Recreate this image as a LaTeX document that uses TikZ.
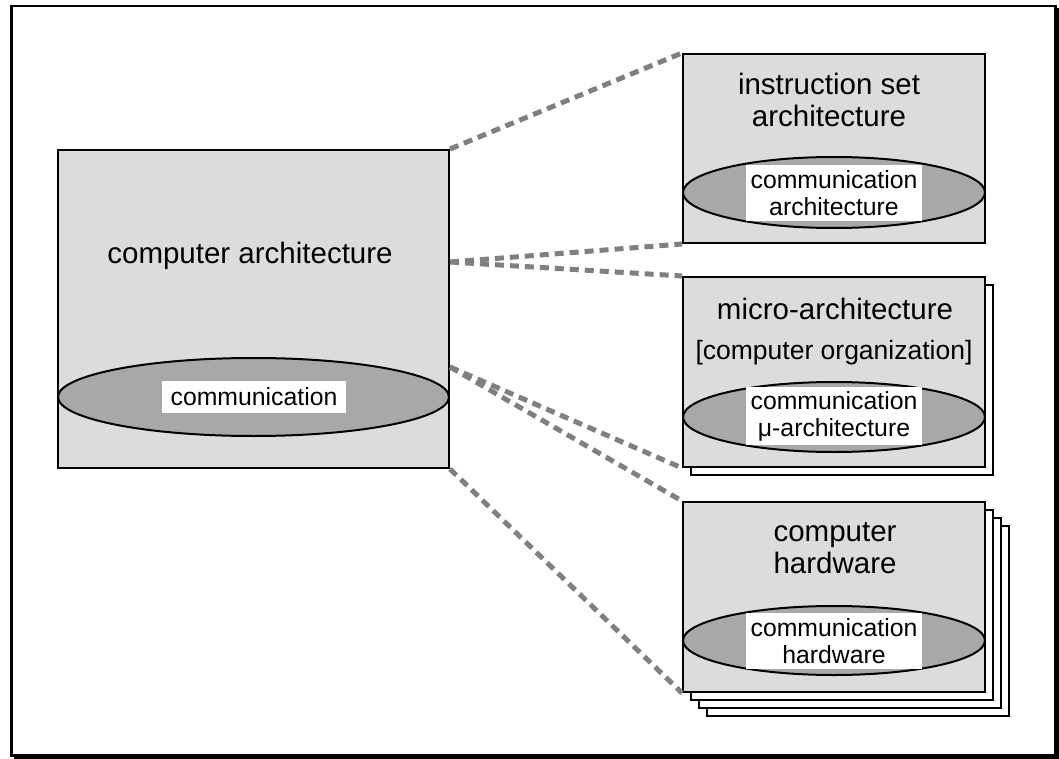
\documentclass[tikz,border=0pt]{standalone}
\usepackage{fontspec}
\setmainfont{Liberation Sans}
\usetikzlibrary{shapes.geometric,calc}
\definecolor{boxgray}{gray}{0.863}
\definecolor{ovalgray}{gray}{0.66}
\definecolor{linkgray}{gray}{0.5}
\newcommand\bigtxt{\fontsize{29.5}{32}\selectfont}
\newcommand\midtxt{\fontsize{26.5}{30}\selectfont}
\newcommand\smalltxt{\fontsize{24.8}{27}\selectfont}
\begin{document}
\begin{tikzpicture}[x=1pt,y=-1pt,
  panel/.style={draw,line width=2pt,fill=boxgray,rectangle,inner sep=0pt,
    minimum width=302pt,minimum height=190pt},
  sheet/.style={draw,line width=2pt,fill=white,rectangle,inner sep=0pt,
    minimum width=302pt,minimum height=190pt},
  oval/.style={draw,line width=2pt,fill=ovalgray,ellipse,inner sep=0pt,
    minimum width=302pt,minimum height=70pt},
  tag/.style={fill=white,inner sep=0pt,align=center,font=\smalltxt,
    minimum width=176pt,minimum height=56pt},
  title/.style={inner sep=0pt,align=center,font=\bigtxt,anchor=base},
  link/.style={draw=linkgray,line width=5pt,dash pattern=on 9pt off 6pt}]
\useasboundingbox (0,0) rectangle (1059,759);

% outer frame with drop shadow
\fill[black] (14,8) rectangle (1059,759);
\draw[line width=2.5pt,fill=white] (11.5,6) rectangle (1055.5,755.5);

% computer architecture
\node[panel,minimum width=391pt,minimum height=318pt] (ca) at (253.5,309) {};
\node[oval,minimum width=391pt,minimum height=78pt] (caov) at (253.5,397) {};
\node[tag,minimum width=184pt,minimum height=32pt] (catag) at (254,397) {communication};
\node[title] (catitle) at (250,263) {computer architecture};

% instruction set architecture (base anchor sits on the last line)
\node[panel,minimum height=189pt] (isa) at (834,148.5) {};
\node[oval,minimum height=71pt] (isaov) at (834,192.5) {};
\node[tag] (isatag) at (834,193) {communication\\architecture};
\node[title] (isatitle) at (829,127) {instruction set\\architecture};

% micro-architecture (two sheets)
\node[sheet] (mab) at (842,380) {};
\node[panel] (ma) at (834,372) {};
\node[oval] (maov) at (834,417) {};
\node[tag,minimum height=58pt] (matag) at (834,416) {communication\\μ-architecture};
\node[title] (matitle) at (835,319) {micro-architecture};
\node[title,font=\midtxt] (maorg) at (834,359) {[computer organization]};

% computer hardware (four sheets)
\node[sheet] (hwc) at (858,621) {};
\node[sheet] (hwb) at (850,613) {};
\node[sheet] (hwa) at (842,605) {};
\node[panel] (hw) at (834,597) {};
\node[oval,minimum height=69pt] (hwov) at (834,640.5) {};
\node[tag] (hwtag) at (834,641) {communication\\hardware};
\node[title] (hwtitle) at (835,573) {computer\\hardware};

% fan-out points on the right edge
\coordinate (f1) at ($(ca.north east)+(0,113)$);
\coordinate (f2) at ($(ca.north east)+(0,218)$);

% dashed connectors
\draw[link] (ca.north east) -- (isa.north west);
\draw[link] (f1) -- (isa.south west);
\draw[link] (f1) -- (ma.north west);
\draw[link] (f2) -- (ma.south west);
\draw[link] (f2) -- (hw.north west);
\draw[link] (ca.south east) -- (hw.south west);
\end{tikzpicture}
\end{document}
